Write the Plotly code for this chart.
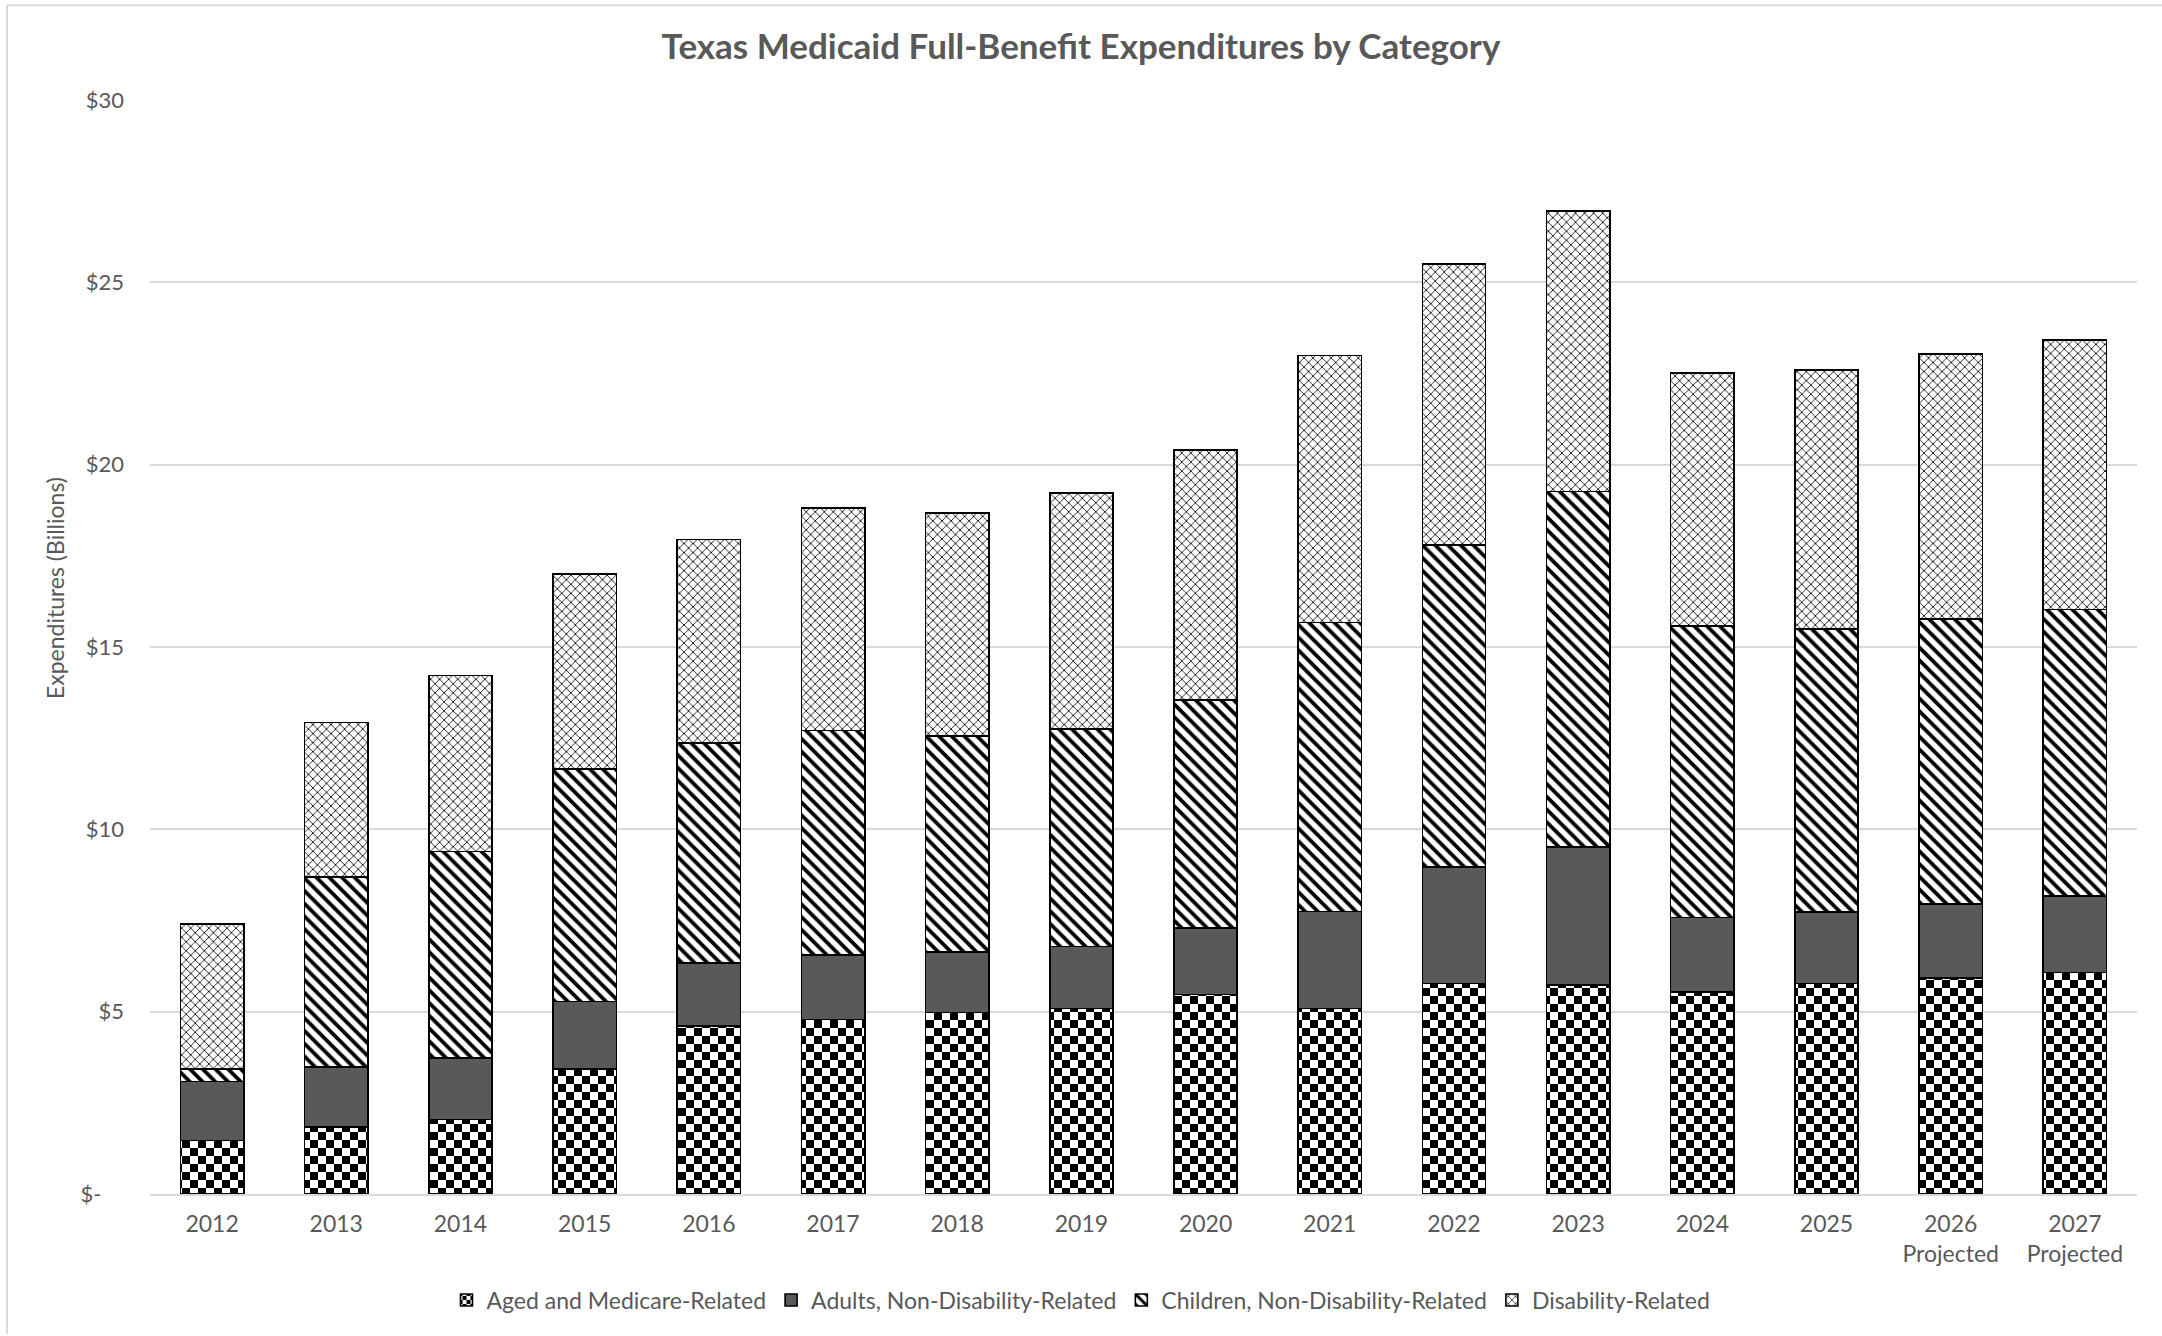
import plotly.graph_objects as go

years = ["2012", "2013", "2014", "2015", "2016", "2017", "2018", "2019", "2020",
         "2021", "2022", "2023", "2024", "2025", "2026<br>Projected", "2027<br>Projected"]

aged = [1.47, 1.83, 2.04, 3.43, 4.60, 4.79, 4.98, 5.09, 5.47, 5.09, 5.77, 5.73, 5.54, 5.77, 5.92, 6.07]
adults = [1.61, 1.65, 1.69, 1.85, 1.73, 1.77, 1.66, 1.70, 1.82, 2.66, 3.19, 3.78, 2.04, 1.96, 2.04, 2.11]
children = [0.34, 5.22, 5.66, 6.37, 6.04, 6.15, 5.92, 5.96, 6.25, 7.92, 8.84, 9.75, 7.99, 7.77, 7.80, 7.85]
disability = [3.98, 4.23, 4.83, 5.36, 5.58, 6.11, 6.11, 6.48, 6.86, 7.32, 7.71, 7.70, 6.94, 7.09, 7.28, 7.39]

series_names = ["Aged and Medicare-Related", "Adults, Non-Disability-Related",
                "Children, Non-Disability-Related", "Disability-Related"]

y_tickvals = [0, 5, 10, 15, 20, 25, 30]
y_ticktext = ["$-    ", "$5", "$10", "$15", "$20", "$25", "$30"]

TXT = "#595959"
FONT = "Lato"
GRID = "#d9d9d9"

fig = go.Figure()
line = dict(color="#000000", width=1.6)
fig.add_trace(go.Bar(x=years, y=aged, name=series_names[0],
                     marker=dict(color="#ffffff", line=line,
                                 pattern=dict(shape=".", fgcolor="#000000", bgcolor="#ffffff",
                                              size=10, solidity=0.5, fillmode="replace"))))
fig.add_trace(go.Bar(x=years, y=adults, name=series_names[1],
                     marker=dict(color="#595959", line=line)))
fig.add_trace(go.Bar(x=years, y=children, name=series_names[2],
                     marker=dict(color="#ffffff", line=line,
                                 pattern=dict(shape="\\", fgcolor="#000000", bgcolor="#ffffff",
                                              size=9, solidity=0.42, fillmode="replace"))))
fig.add_trace(go.Bar(x=years, y=disability, name=series_names[3],
                     marker=dict(color="#ffffff", line=line,
                                 pattern=dict(shape="x", fgcolor="#000000", bgcolor="#ffffff",
                                              size=6.4, solidity=0.24, fillmode="replace"))))

W, H = 2162, 1336
L, R, T, B = 150, 25, 100, 140
pw, ph = W - L - R, H - T - B

def px_x(v):
    return (v - L) / pw

def px_y(v):
    return (H - B - v) / ph

fig.update_layout(
    width=W, height=H,
    barmode="stack", bargap=0.49,
    paper_bgcolor="#ffffff", plot_bgcolor="#ffffff",
    margin=dict(l=L, r=R, t=T, b=B),
    font=dict(family=FONT, color=TXT, size=23),
    title=dict(text="<b>Texas Medicaid Full-Benefit Expenditures by Category</b>",
               x=0.5, xref="container", xanchor="center",
               y=1 - 47 / H, yref="container", yanchor="middle",
               font=dict(family=FONT, size=35, color=TXT)),
    legend=dict(orientation="h", x=0.5, xref="container", xanchor="center",
                y=1 - 1300 / H, yref="container", yanchor="middle", itemwidth=30,
                font=dict(family=FONT, size=23, color=TXT), traceorder="normal"),
    xaxis=dict(showgrid=False, showline=True, linecolor=GRID, linewidth=2,
               ticks="", ticklabelstandoff=8, tickfont=dict(size=23, color=TXT)),
    yaxis=dict(range=[0, 30], tickvals=y_tickvals, ticktext=y_ticktext,
               showgrid=True, gridcolor=GRID, gridwidth=2, zeroline=False,
               showline=False, ticks="", ticklabelstandoff=25,
               tickfont=dict(size=22, color=TXT)),
    annotations=[dict(text="Expenditures (Billions)", textangle=-90,
                      xref="paper", yref="paper", x=px_x(55), y=px_y(589),
                      xanchor="center", yanchor="middle", showarrow=False,
                      font=dict(family=FONT, size=23, color=TXT))],
    shapes=[
        dict(type="line", xref="paper", yref="paper", x0=px_x(7), x1=px_x(7),
             y0=px_y(H), y1=px_y(5), line=dict(color=GRID, width=2)),
        dict(type="line", xref="paper", yref="paper", x0=px_x(7), x1=px_x(W),
             y0=px_y(5), y1=px_y(5), line=dict(color=GRID, width=2)),
    ],
)

post = r"""
document.body.style.margin = '0';
document.body.style.padding = '0';
var gd = document.getElementById('{plot_id}');
function applyChecker(){
  var svg = gd.querySelector('svg.main-svg');
  if(!svg) return;
  var ns = 'http://www.w3.org/2000/svg';
  var defs = svg.querySelector('defs');
  if(!defs){ defs = document.createElementNS(ns,'defs'); svg.insertBefore(defs, svg.firstChild); }
  if(!document.getElementById('checker-pat')){
    var p = document.createElementNS(ns,'pattern');
    p.setAttribute('id','checker-pat');
    p.setAttribute('patternUnits','userSpaceOnUse');
    p.setAttribute('width','16'); p.setAttribute('height','16');
    [[0,0,16,16,'#ffffff'],[0,0,8,8,'#000000'],[8,8,8,8,'#000000']].forEach(function(r){
      var e = document.createElementNS(ns,'rect');
      e.setAttribute('x',r[0]); e.setAttribute('y',r[1]);
      e.setAttribute('width',r[2]); e.setAttribute('height',r[3]);
      e.setAttribute('fill',r[4]);
      p.appendChild(e);
    });
    defs.appendChild(p);
    var q = document.createElementNS(ns,'pattern');
    q.setAttribute('id','checker-pat-small');
    q.setAttribute('patternUnits','userSpaceOnUse');
    q.setAttribute('width','8'); q.setAttribute('height','8');
    [[0,0,8,8,'#ffffff'],[0,0,4,4,'#000000'],[4,4,4,4,'#000000']].forEach(function(r){
      var e = document.createElementNS(ns,'rect');
      e.setAttribute('x',r[0]); e.setAttribute('y',r[1]);
      e.setAttribute('width',r[2]); e.setAttribute('height',r[3]);
      e.setAttribute('fill',r[4]);
      q.appendChild(e);
    });
    defs.appendChild(q);
  }
  var traces = gd.querySelectorAll('.barlayer .trace');
  if(traces.length){
    traces[0].querySelectorAll('path').forEach(function(el){ el.style.fill = "url('#checker-pat')"; });
  }
  var leg = gd.querySelectorAll('.legend .traces');
  if(leg.length){
    leg[0].querySelectorAll('.legendpoints path').forEach(function(el){ el.style.fill = "url('#checker-pat-small')"; });
  }
}
applyChecker();
gd.on('plotly_afterplot', applyChecker);
"""

fig.write_html("out.html", post_script=post, config={"displayModeBar": False})
